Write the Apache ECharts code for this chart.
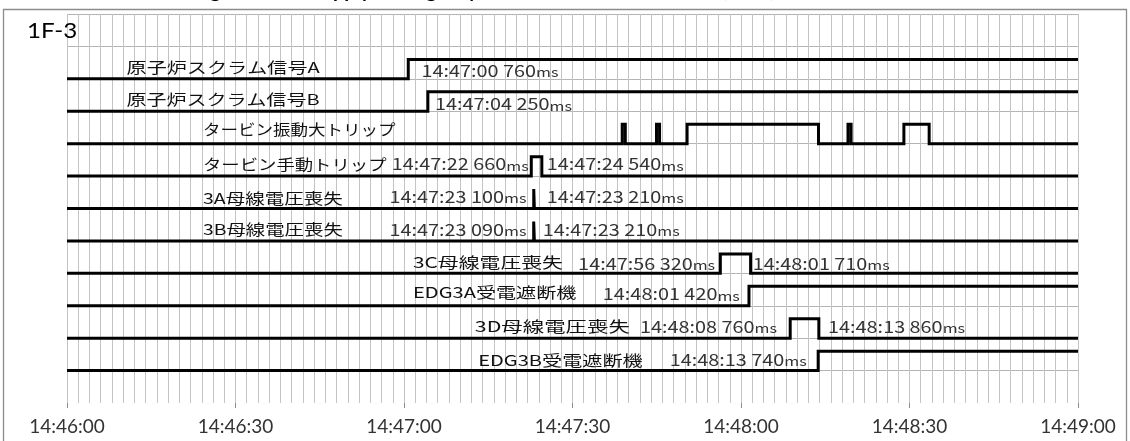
<!DOCTYPE html>
<html>
<head>
<meta charset="utf-8">
<script src="https://cdn.jsdelivr.net/npm/echarts@6/dist/echarts.min.js"></script>
<style>
html, body { margin: 0; padding: 0; background: #fff; }
#chart-container { width: 1130px; height: 441px; }
</style>
</head>
<body>
<div id="chart-container"></div>
<script>
// x axis runs in seconds from 14:46:00
const startTime = "14:46:00";
const timeLabels = ["14:46:00", "14:46:30", "14:47:00", "14:47:30", "14:48:00", "14:48:30", "14:49:00"];

const signalNames = [
    "原子炉スクラム信号A",
    "原子炉スクラム信号B",
    "タービン振動大トリップ",
    "タービン手動トリップ",
    "3A母線電圧喪失",
    "3B母線電圧喪失",
    "3C母線電圧喪失",
    "EDG3A受電遮断機",
    "3D母線電圧喪失",
    "EDG3B受電遮断機",
];
const baseLevels = [10, 9, 8, 7, 6, 5, 4, 3, 2, 1];

// every entry toggles the signal (low -> high -> low ...)
const edgeTimes = [
    ["14:47:00.760"],
    ["14:47:04.250"],
    ["14:47:38.85", "14:47:39.40", "14:47:44.95", "14:47:45.50", "14:47:50.40", "14:48:13.80",
     "14:48:19.05", "14:48:19.60", "14:48:29.00", "14:48:33.50"],
    ["14:47:22.660", "14:47:24.540"],
    ["14:47:23.100", "14:47:23.210"],
    ["14:47:23.090", "14:47:23.210"],
    ["14:47:56.320", "14:48:01.710"],
    ["14:48:01.420"],
    ["14:48:08.760", "14:48:13.860"],
    ["14:48:13.740"],
];

const timeTexts = [
    ["14:47:00 760"],
    ["14:47:04 250"],
    [],
    ["14:47:22 660", "14:47:24 540"],
    ["14:47:23 100", "14:47:23 210"],
    ["14:47:23 090", "14:47:23 210"],
    ["14:47:56 320", "14:48:01 710"],
    ["14:48:01 420"],
    ["14:48:08 760", "14:48:13 860"],
    ["14:48:13 740"],
];

function toSec(s) {
    const p = s.split(":");
    const a = startTime.split(":");
    return (+p[0] - +a[0]) * 3600 + (+p[1] - +a[1]) * 60 + (+p[2] - +a[2]);
}

// where the texts sit: name = [left sec, level, right sec], time = [left sec, level]
const nameAnchors = [
    [10.6, 10.36, 45.0], [10.6, 9.38, 45.0], [24.2, 8.43, 58.5], [24.2, 7.36, 56.9], [24.2, 6.32, 49.1],
    [24.2, 5.36, 49.1], [61.6, 4.33, 88.3], [61.6, 3.4, 90.7], [72.6, 2.36, 100.2], [73.2, 1.33, 102.5],
];
const timeAnchors = [
    [[63.1, 10.24]],
    [[65.5, 9.22]],
    [],
    [[57.8, 7.37], [85.4, 7.37]],
    [[57.4, 6.36], [85.4, 6.36]],
    [[57.4, 5.34], [84.7, 5.34]],
    [[91.0, 4.3], [122.1, 4.3]],
    [[95.4, 3.36]],
    [[102.0, 2.36], [135.5, 2.36]],
    [[107.3, 1.33]],
];

const HIGH = 0.6;
const NAME_FONT = '15px "Noto Sans CJK JP"';
const measureCtx = document.createElement("canvas").getContext("2d");
measureCtx.font = NAME_FONT;

const annotations = [];
signalNames.forEach((name, i) => {
    const a = nameAnchors[i];
    annotations.push({ pos: [a[0], a[1]], right: a[2], text: name, kind: "name" });
    timeTexts[i].forEach((t, j) => {
        annotations.push({ pos: timeAnchors[i][j], text: "{d|" + t + "}{u|ms}", kind: "time" });
    });
});

let dom = document.getElementById("chart-container");
let myChart = echarts.init(dom, null, { renderer: "canvas" });

const lineSeries = signalNames.map((name, i) => {
    const base = baseLevels[i];
    let level = base;
    const pts = [[0, base]];
    edgeTimes[i].forEach((ts) => {
        level = level === base ? base + HIGH : base;
        pts.push([toSec(ts), level]);
    });
    pts.push([180, level]);
    return {
        name: name,
        type: "line",
        step: "end",
        data: pts,
        showSymbol: false,
        symbol: "none",
        animation: false,
        z: 3,
        lineStyle: { color: "#000", width: 3, join: "miter", cap: "butt" },
    };
});

const textSeries = {
    type: "custom",
    data: annotations.map((a) => a.pos),
    encode: { x: 0, y: 1 },
    clip: false,
    z: 5,
    animation: false,
    renderItem: function (params, api) {
        const a = annotations[params.dataIndex];
        const p = api.coord(a.pos);
        if (a.kind === "name") {
            const pr = api.coord([a.right, a.pos[1]]);
            const w = measureCtx.measureText(a.text).width;
            return {
                type: "text",
                x: p[0],
                y: p[1],
                scaleX: (pr[0] - p[0]) / w,
                style: {
                    text: a.text,
                    fill: "#111",
                    font: NAME_FONT,
                    align: "left",
                    verticalAlign: "middle",
                },
            };
        }
        return {
            type: "text",
            x: p[0],
            y: p[1],
            scaleX: 1.24,
            style: {
                text: a.text,
                fill: "#333",
                fontFamily: "Noto Sans CJK JP",
                align: "left",
                verticalAlign: "middle",
                rich: {
                    d: { fontSize: 16, fontFamily: "Noto Sans CJK JP", fill: "#333", verticalAlign: "bottom" },
                    u: { fontSize: 13, fontFamily: "Noto Sans CJK JP", fill: "#333", verticalAlign: "bottom" },
                },
            },
        };
    },
};

let option = {
    animation: false,
    grid: { left: 67, right: 52, top: 14, bottom: 38 },
    graphic: [
        {
            type: "rect",
            shape: { x: 3.5, y: 9.5, width: 1123, height: 500 },
            style: { fill: "none", stroke: "#8c8c8c", lineWidth: 1.3 },
            z: 1,
        },
        {
            type: "text",
            x: 160,
            y: -9.5,
            style: {
                text: "Timing of Power Supply, Emergency Diesel Generator Breakers (1F-3)",
                font: "bold 20px Lato",
                fill: "#000",
                align: "left",
                verticalAlign: "middle",
            },
        },
        {
            type: "text",
            x: 27,
            y: 31.5,
            scaleX: 1.15,
            style: {
                text: "1F-3",
                font: "21px Lato",
                fill: "#000",
                align: "left",
                verticalAlign: "middle",
            },
            z: 10,
        },
    ],
    xAxis: {
        type: "value",
        min: 0,
        max: 180,
        interval: 30,
        axisLine: { show: false },
        axisTick: { show: true, length: 5, lineStyle: { color: "#8c8c8c" } },
        axisLabel: {
            margin: 14,
            fontFamily: "Lato",
            fontSize: 19,
            color: "#333",
            formatter: (v) => timeLabels[Math.round(v / 30)],
        },
        splitLine: { show: true, lineStyle: { color: "#c4c4c4", width: 1 } },
        minorTick: { show: false, splitNumber: 15 },
        minorSplitLine: { show: true, lineStyle: { color: "#c4c4c4", width: 1 } },
    },
    yAxis: {
        type: "value",
        min: 0,
        max: 12,
        interval: 1,
        axisLine: { show: false },
        axisTick: { show: false },
        axisLabel: { show: false },
        splitLine: { show: true, showMinLine: false, lineStyle: { color: "#b4b4b4", width: 1 } },
    },
    series: lineSeries.concat([textSeries]),
};

if (option && typeof option === "object") {
    myChart.setOption(option);
}

window.addEventListener("resize", myChart.resize);
</script>
</body>
</html>
